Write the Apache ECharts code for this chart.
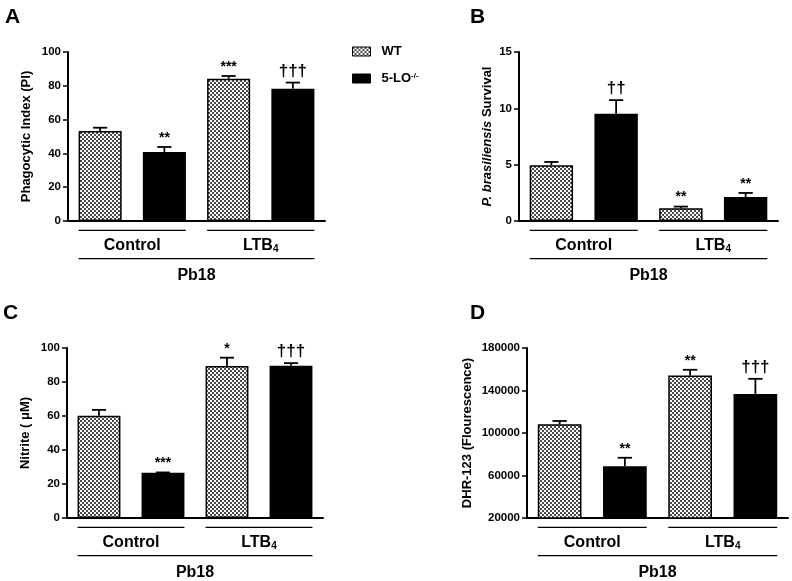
<!DOCTYPE html>
<html>
<head>
<meta charset="utf-8">
<script src="https://cdn.jsdelivr.net/npm/echarts@6/dist/echarts.min.js"></script>
<style>html,body{margin:0;padding:0;background:#fff;}#c{width:792px;height:581px;}</style>
</head>
<body>
<div id="c"></div>
<script>
// ---------- data ----------
const categories = ['WT Control', '5-LO Control', 'WT LTB4', '5-LO LTB4'];
const seriesNames = ['WT', '5-LO-/-'];
const groupLabels = ['Control', 'LTB{s|4}'];
const strainLabel = 'Pb18';
const panelLetters = ['A', 'B', 'C', 'D'];
const yNames = ['Phagocytic Index (PI)', '{i|P. brasiliensis} Survival', 'Nitrite ( \u03bcM)', 'DHR-123 (Flourescence)'];

const phagoMean = [53.2, 40.8, 84.2, 78.3];
const phagoSem = [2.0, 3.0, 1.6, 3.6];
const phagoMarks = ['', '**', '***', '\u2020\u2020\u2020'];
const phagoTicks = [0, 20, 40, 60, 80, 100];

const survivalMean = [4.94, 9.53, 1.13, 2.13];
const survivalSem = [0.30, 1.20, 0.15, 0.36];
const survivalMarks = ['', '\u2020\u2020', '**', '**'];
const survivalTicks = [0, 5, 10, 15];

const nitriteMean = [60.2, 26.6, 89.4, 89.6];
const nitriteSem = [3.4, 0.2, 4.9, 1.5];
const nitriteMarks = ['', '***', '*', '\u2020\u2020\u2020'];
const nitriteTicks = [0, 20, 40, 60, 80, 100];

const dhrMean = [108200, 68800, 154100, 136800];
const dhrSem = [3100, 7900, 5400, 14200];
const dhrMarks = ['', '**', '**', '\u2020\u2020\u2020'];
const dhrTicks = [20000, 60000, 100000, 140000, 180000];

const panelData = [
  {mean: phagoMean, sem: phagoSem, marks: phagoMarks, ticks: phagoTicks},
  {mean: survivalMean, sem: survivalSem, marks: survivalMarks, ticks: survivalTicks},
  {mean: nitriteMean, sem: nitriteSem, marks: nitriteMarks, ticks: nitriteTicks},
  {mean: dhrMean, sem: dhrSem, marks: dhrMarks, ticks: dhrTicks}
];

// ---------- layout / style ----------
const FONT = '"Liberation Sans", Arial, Helvetica, sans-serif';
const layout = [
  {left: 68, right: 467, top: 52, bottom: 360, nameGap: 35, lx: 5, ly: 7},
  {left: 519, right: 14, top: 52, bottom: 360, nameGap: 25, lx: 470, ly: 7},
  {left: 67, right: 469, top: 348, bottom: 63, nameGap: 35, lx: 3, ly: 303},
  {left: 527, right: 4, top: 348, bottom: 63, nameGap: 53, lx: 470, ly: 303}
];
const BAR_FRAC = 0.67;

function makePattern() {
  const c = document.createElement('canvas');
  c.width = 4; c.height = 4;
  const g = c.getContext('2d');
  g.fillStyle = '#ffffff'; g.fillRect(0, 0, 4, 4);
  g.fillStyle = '#4a4a4a'; g.fillRect(0, 0, 2, 2); g.fillRect(2, 2, 2, 2);
  return c;
}
const wtFill = {image: makePattern(), repeat: 'repeat'};

const chart = echarts.init(document.getElementById('c'), null, {renderer: 'canvas'});

const grid = [], xAxis = [], yAxis = [], series = [], title = [];

layout.forEach((L, p) => {
  const d = panelData[p];
  const yMin = d.ticks[0], yMax = d.ticks[d.ticks.length - 1];
  grid.push({left: L.left, right: L.right, top: L.top, bottom: L.bottom, containLabel: false});
  title.push({text: panelLetters[p], left: L.lx, top: L.ly, padding: 0,
    textStyle: {fontFamily: FONT, fontSize: 21, fontWeight: 'bold', color: '#000'}});
  xAxis.push({type: 'category', gridIndex: p, data: categories,
    axisLine: {show: true, lineStyle: {color: '#000', width: 2}},
    axisTick: {show: false}, axisLabel: {show: false}, splitLine: {show: false}});
  yAxis.push({type: 'value', gridIndex: p, min: yMin, max: yMax,
    name: yNames[p], nameLocation: 'middle', nameGap: L.nameGap, nameRotate: 90,
    nameTextStyle: {fontFamily: FONT, fontSize: 13, fontWeight: 'bold', color: '#000',
      rich: {i: {fontFamily: FONT, fontSize: 13, fontWeight: 'bold', fontStyle: 'italic', color: '#000'}}},
    axisLine: {show: true, lineStyle: {color: '#000', width: 2}},
    axisTick: {show: true, length: 5, inside: false, customValues: d.ticks, lineStyle: {color: '#000', width: 1.5}},
    axisLabel: {customValues: d.ticks, margin: 7, fontFamily: FONT, fontSize: 11.5, fontWeight: 'bold', color: '#000',
      formatter: v => String(v)},
    splitLine: {show: false}});

  // bars: WT at even indices, 5-LO at odd indices
  const wtData = d.mean.map((v, i) => (i % 2 === 0 ? v : null));
  const koData = d.mean.map((v, i) => (i % 2 === 1 ? v : null));
  series.push({type: 'bar', name: seriesNames[0], xAxisIndex: p, yAxisIndex: p, data: wtData,
    barWidth: (BAR_FRAC * 100) + '%', barGap: '-100%',
    itemStyle: {color: wtFill, borderColor: '#000', borderWidth: 1.5}, z: 2});
  series.push({type: 'bar', name: seriesNames[1], xAxisIndex: p, yAxisIndex: p, data: koData,
    barWidth: (BAR_FRAC * 100) + '%', barGap: '-100%',
    itemStyle: {color: '#000', borderColor: '#000', borderWidth: 1.5}, z: 2});

  // error bars + significance marks
  series.push({type: 'custom', xAxisIndex: p, yAxisIndex: p, clip: false, z: 5, silent: true,
    encode: {x: 0, y: 1},
    data: d.mean.map((v, i) => [i, v, d.sem[i]]),
    renderItem: (params, api) => {
      const x = api.value(0), m = api.value(1), s = api.value(2);
      const base = api.coord([x, m]);
      const top = api.coord([x, m + s]);
      const band = api.size([1, 0])[0];
      const cap = band * 0.11;
      const mark = d.marks[params.dataIndex];
      const isDagger = mark.indexOf('\u2020') >= 0;
      const children = [
        {type: 'line', shape: {x1: base[0], y1: base[1], x2: top[0], y2: top[1]}, style: {stroke: '#000', lineWidth: 1.8}},
        {type: 'line', shape: {x1: top[0] - cap, y1: top[1], x2: top[0] + cap, y2: top[1]}, style: {stroke: '#000', lineWidth: 1.8}}
      ];
      if (mark) {
        children.push({type: 'text', style: {text: mark, x: top[0], y: top[1] - (isDagger ? 3 : 2),
          align: 'center', verticalAlign: 'bottom', fontFamily: FONT, fontWeight: 'bold',
          fontSize: isDagger ? 17 : 14, fill: '#000'}});
      }
      return {type: 'group', children};
    }});

  // group brackets + labels
  const groupItems = [[0, 1, yMin], [2, 3, yMin], [0, 3, yMin]];
  const groupTexts = [groupLabels[0], groupLabels[1], strainLabel];
  series.push({type: 'custom', xAxisIndex: p, yAxisIndex: p, clip: false, z: 5, silent: true,
    encode: {x: [0, 1], y: 2},
    data: groupItems,
    renderItem: (params, api) => {
      const level = params.dataIndex < 2 ? 0 : 1;
      const a = api.coord([api.value(0), api.value(2)]);
      const b = api.coord([api.value(1), api.value(2)]);
      const half = api.size([1, 0])[0] * BAR_FRAC / 2;
      const lineY = a[1] + (level === 0 ? 9.3 : 37.6);
      const textY = a[1] + (level === 0 ? 24.8 : 54.6);
      return {type: 'group', children: [
        {type: 'line', shape: {x1: a[0] - half, y1: lineY, x2: b[0] + half, y2: lineY}, style: {stroke: '#000', lineWidth: 1.2}},
        {type: 'text', style: {text: groupTexts[params.dataIndex], x: (a[0] + b[0]) / 2, y: textY,
          align: 'center', verticalAlign: 'middle', fontFamily: FONT, fontWeight: 'bold', fontSize: 16, fill: '#000',
          rich: {s: {fontFamily: FONT, fontWeight: 'bold', fontSize: 10, fill: '#000', verticalAlign: 'bottom', lineHeight: 10}}}}
      ]};
    }});
});

chart.setOption({
  animation: false,
  backgroundColor: '#fff',
  title: title,
  legend: {
    data: seriesNames, orient: 'vertical', left: 347, top: 40,
    itemWidth: 18, itemHeight: 9, itemGap: 14, icon: 'rect', selectedMode: false,
    itemStyle: {borderColor: '#000', borderWidth: 1},
    formatter: name => (name === '5-LO-/-' ? '5-LO{sup|-/-}' : name),
    textStyle: {fontFamily: FONT, fontSize: 13, fontWeight: 'bold', color: '#000', padding: [0, 0, 0, 6],
      rich: {sup: {fontFamily: FONT, fontSize: 8, fontWeight: 'bold', color: '#000', verticalAlign: 'top', lineHeight: 8}}}
  },
  grid: grid,
  xAxis: xAxis,
  yAxis: yAxis,
  series: series
});
</script>
</body>
</html>
